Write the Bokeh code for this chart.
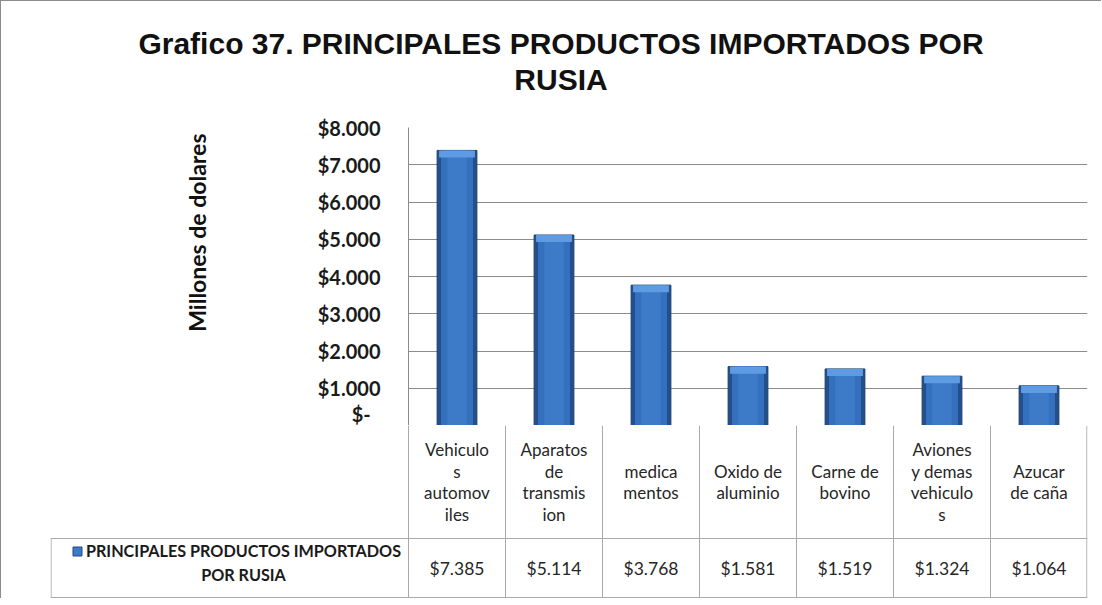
from bokeh.plotting import figure
from bokeh.layouts import column
from bokeh.models import FactorRange, Range1d, FixedTicker, Div, Title, ColumnDataSource
from bokeh.embed import file_html
from bokeh.resources import INLINE
from bokeh.core.properties import value

# ---------------- data ----------------
categories = ["Vehiculos automoviles", "Aparatos de transmision", "medicamentos",
              "Oxido de aluminio", "Carne de bovino", "Aviones y demas vehiculos",
              "Azucar de caña"]
category_labels = ["Vehiculo\ns\nautomov\niles", "Aparatos\nde\ntransmis\nion",
                   "medica\nmentos", "Oxido de\naluminio", "Carne de\nbovino",
                   "Aviones\ny demas\nvehiculo\ns", "Azucar\nde caña"]
values = [7385, 5114, 3768, 1581, 1519, 1324, 1064]
y_ticks = [0, 1000, 2000, 3000, 4000, 5000, 6000, 7000, 8000]
y_tick_labels = ["$-\u00a0\u00a0", "$1.000", "$2.000", "$3.000", "$4.000", "$5.000",
                 "$6.000", "$7.000", "$8.000"]
series_name = "PRINCIPALES PRODUCTOS IMPORTADOS POR RUSIA"
series_label = "PRINCIPALES PRODUCTOS IMPORTADOS\nPOR RUSIA"
title_lines = ["Grafico 37. PRINCIPALES PRODUCTOS IMPORTADOS POR", "RUSIA"]
y_label = "Millones de dolares"

# ---------------- layout constants (page px) ----------------
ORIGIN = 1
W = 1100
DIV_H = 112
TOP_H = 312
CAT_H = 113
VAL_H = 60
BOT_H = CAT_H + VAL_H
FRAME_L, FRAME_R = 408, 1087
PLOT_TOP = 127
TABLE_L = 50
n = len(categories)
col_w = (FRAME_R - FRAME_L) / n
legend_w = (FRAME_L - TABLE_L) / col_w

FONT = "Lato"
GRID = "#8c8c8c"
TABLE_LINE = "#a9a9a9"
TXT = "#262626"

# ---------------- title ----------------
title_div = Div(
    text=('<div style="font-family:\'Liberation Sans\',Arial,sans-serif;font-weight:bold;'
          'font-size:30px;line-height:36px;text-align:center;color:#111;'
          'margin-top:25px;margin-left:20px;width:%dpx;">%s<br>%s</div>'
          % (W - 20, title_lines[0], title_lines[1])),
    width=W, height=DIV_H, margin=0)

# ---------------- chart ----------------
p = figure(width=W, height=TOP_H, x_range=FactorRange(*categories),
           y_range=Range1d(0, 8000), output_backend="svg", toolbar_location=None,
           x_axis_location=None, frame_align=False,
           min_border_left=FRAME_L - ORIGIN, min_border_right=ORIGIN + W - FRAME_R,
           min_border_top=PLOT_TOP - (ORIGIN + DIV_H), min_border_bottom=0)
p.outline_line_color = None
p.xgrid.visible = False
p.ygrid.ticker = FixedTicker(ticks=y_ticks)
p.ygrid.grid_line_color = GRID
p.yaxis.ticker = FixedTicker(ticks=y_ticks)
p.yaxis.major_label_overrides = {t: l for t, l in zip(y_ticks, y_tick_labels)}
p.yaxis.major_tick_line_color = None
p.yaxis.minor_tick_line_color = None
p.yaxis.major_tick_out = 0
p.yaxis.major_tick_in = 0
p.yaxis.axis_line_color = GRID
p.yaxis.major_label_standoff = 28
p.yaxis.major_label_text_font = FONT
p.yaxis.major_label_text_font_style = "bold"
p.yaxis.major_label_text_font_size = "20px"
p.yaxis.major_label_text_color = "#1a1a1a"

ytitle = Title(text=y_label, align="right", offset=6, standoff=208,
               text_font=FONT, text_font_style="bold", text_font_size="23px",
               text_color="#111")
p.add_layout(ytitle, "left")

CAP = 190  # bevel height in data units (style)
src = ColumnDataSource(dict(cat=categories, val=values,
                            cap=[v - CAP for v in values]))
p.vbar(x="cat", top="val", width=0.41, source=src, fill_color="#234f8b",
       line_color="#1b3f6e", line_width=1)
p.vbar(x="cat", top="val", width=0.33, source=src, fill_color="#3470bd",
       line_color=None)
p.vbar(x="cat", top="val", width=0.20, source=src, fill_color="#3d7bc9",
       line_color=None)
p.vbar(x="cat", top="val", bottom="cap", width=0.37, source=src,
       fill_color="#5e9be2", line_color=None)

# ---------------- data table ----------------
b = figure(width=W, height=BOT_H, x_range=Range1d(-legend_w, n),
           y_range=Range1d(-VAL_H, CAT_H), output_backend="svg",
           toolbar_location=None, x_axis_location=None, y_axis_location=None,
           frame_align=False,
           min_border_left=TABLE_L - ORIGIN, min_border_right=ORIGIN + W - FRAME_R,
           min_border_top=0, min_border_bottom=0)
b.outline_line_color = None
b.xgrid.visible = False
b.ygrid.visible = False

eps_x = 0.6 / col_w
xs = list(range(n + 1))
xs_adj = [x if x < n else n - eps_x for x in xs]
b.segment(x0=xs_adj, y0=[-VAL_H + 1] * len(xs), x1=xs_adj, y1=[CAT_H] * len(xs),
          line_color=TABLE_LINE, line_width=1)
b.segment(x0=[-legend_w + eps_x], y0=[-VAL_H + 1], x1=[-legend_w + eps_x], y1=[0],
          line_color=TABLE_LINE, line_width=1)
b.segment(x0=[-legend_w, -legend_w], y0=[0, -VAL_H + 1], x1=[n, n],
          y1=[0, -VAL_H + 1], line_color=TABLE_LINE, line_width=1)

centers = [i + 0.5 for i in range(n)]
b.text(x=centers, y=[CAT_H / 2] * n, text=category_labels, text_align="center",
       text_baseline="middle", text_font=value(FONT), text_font_size="17px",
       text_line_height=1.03, text_color=TXT)
b.text(x=centers, y=[-VAL_H / 2] * n,
       text=["$" + f"{v:,}".replace(",", ".") for v in values],
       text_align="center", text_baseline="middle", text_font=value(FONT),
       text_font_size="17.5px", text_color=TXT)
b.text(x=[-legend_w + 193 / col_w], y=[-24], text=[series_label],
       text_align="center", text_baseline="middle", text_font=value(FONT),
       text_font_size="16.2px", text_font_style="bold", text_line_height=1.28,
       text_color="#1a1a1a")
b.rect(x=[-legend_w + 27 / col_w], y=[-13], width=9, height=9,
       width_units="screen", height_units="screen", fill_color="#3d7bc9",
       line_color="#1f4a85")

layout = column(title_div, p, b,
                styles={"border-left": "1px solid #8c8c8c",
                        "border-top": "1px solid #8c8c8c"})

open("out.html", "w").write(file_html(layout, INLINE, title=series_name))
